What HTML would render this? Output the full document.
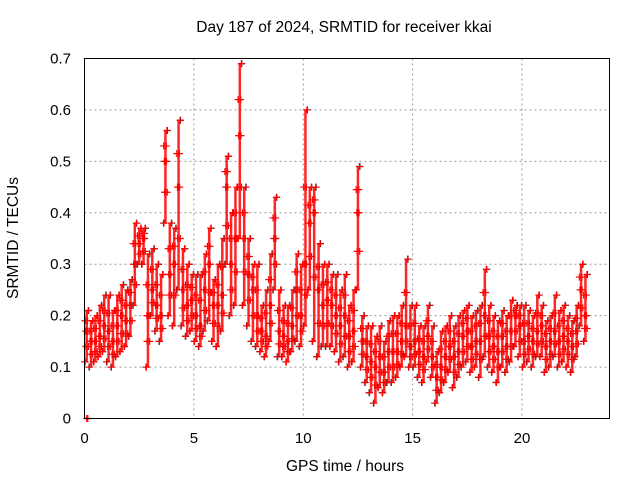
<!DOCTYPE html>
<html><head><meta charset="utf-8"><style>
body{margin:0;background:#fff;}
svg{display:block;font-family:"Liberation Sans",sans-serif;}
</style></head><body>
<svg id="chart" width="640" height="480">
<text x="344" y="32" text-anchor="middle" font-size="15.5">Day 187 of 2024, SRMTID for receiver kkai</text>
<text x="345" y="471" text-anchor="middle" font-size="15.5">GPS time / hours</text>
<text transform="translate(18,238) rotate(-90)" text-anchor="middle" font-size="15.5">SRMTID / TECUs</text>
<g id="grid"></g><g id="ticks"></g><g id="marks"></g>
<rect x="84.5" y="58.5" width="525" height="360" fill="none" stroke="#000" stroke-width="1"/>
</svg>
<script>
const xTicks=[0,5,10,15,20];
const yTicks=[0,0.1,0.2,0.3,0.4,0.5,0.6,0.7];
const yTickLabels=["0","0.1","0.2","0.3","0.4","0.5","0.6","0.7"];
const binWidth=0.2;
const midVals=[.17,.15,.15,.16,.18,.17,.15,.18,.20,.19,.22,.30,.34,.35,.20,.25,.22,.20,.50,.28,.30,.45,.25,.22,.23,.20,.18,.25,.30,.22,.22,.24,.45,.30,.35,.55,.35,.28,.25,.20,.17,.16,.22,.35,.17,.16,.15,.18,.25,.20,.30,.38,.40,.25,.22,.23,.22,.20,.18,.20,.16,.17,.40,.15,.12,.11,.10,.12,.09,.13,.13,.13,.15,.18,.14,.15,.13,.12,.16,.12,.08,.10,.12,.14,.12,.13,.16,.17,.14,.15,.15,.20,.16,.14,.13,.16,.14,.17,.20,.18,.15,.16,.15,.17,.18,.14,.15,.17,.15,.16,.15,.14,.17,.25,.20];
const lowVals=[.11,.10,.11,.12,.13,.11,.10,.12,.13,.14,.16,.22,.30,.30,.10,.20,.17,.15,.38,.20,.18,.25,.18,.16,.17,.15,.14,.17,.19,.15,.14,.17,.30,.20,.22,.35,.22,.18,.15,.14,.13,.12,.15,.25,.12,.12,.11,.13,.15,.14,.18,.25,.15,.12,.14,.14,.14,.13,.11,.12,.10,.11,.25,.10,.07,.05,.03,.06,.05,.07,.07,.08,.10,.12,.10,.10,.08,.07,.11,.08,.03,.05,.07,.09,.06,.08,.10,.11,.09,.10,.08,.12,.10,.09,.07,.10,.09,.11,.14,.12,.10,.11,.10,.12,.12,.09,.10,.12,.10,.11,.10,.09,.12,.18,.15];
const highVals=[.21,.19,.20,.22,.24,.24,.21,.24,.26,.25,.27,.38,.37,.37,.32,.33,.30,.28,.56,.38,.37,.58,.33,.30,.28,.28,.28,.32,.37,.27,.30,.35,.51,.40,.45,.69,.45,.35,.30,.30,.22,.25,.32,.43,.25,.22,.22,.25,.32,.30,.60,.45,.45,.34,.30,.30,.28,.28,.25,.28,.22,.25,.49,.20,.18,.18,.16,.18,.15,.19,.20,.20,.22,.31,.22,.22,.18,.18,.22,.18,.13,.17,.18,.20,.18,.20,.21,.22,.20,.21,.22,.29,.22,.20,.19,.21,.20,.23,.22,.22,.22,.21,.20,.24,.22,.19,.20,.24,.21,.22,.20,.19,.22,.30,.28];
const outlierT=[0.1,0.15];
const outlierV=[0,0];
const X=t=>84.5+t*(525/24);
const Y=v=>418.5-v*(360/0.7);
const NS="http://www.w3.org/2000/svg";
function mk(tag,attrs,parent){const e=document.createElementNS(NS,tag);for(const k in attrs)e.setAttribute(k,attrs[k]);parent.appendChild(e);return e;}
const grid=document.getElementById('grid'),ticks=document.getElementById('ticks'),marks=document.getElementById('marks');
xTicks.forEach(t=>{
 if(t>0){const g=mk('line',{x1:X(t),x2:X(t),y1:58.5,y2:418.5,stroke:'#999','stroke-dasharray':'2,3'},grid);
 
 }
 const l=mk('text',{x:X(t),y:443,'text-anchor':'middle','font-size':15},ticks);l.textContent=t;
 
 
});
yTicks.forEach((v,i)=>{
 if(v>0&&v<0.7){const g=mk('line',{x1:84.5,x2:609.5,y1:Y(v),y2:Y(v),stroke:'#999','stroke-dasharray':'2,3'},grid);
 
 }
 const l=mk('text',{x:71,y:Y(v)+5,'text-anchor':'end','font-size':15},ticks);l.textContent=yTickLabels[i];
 
 
});
function plus(t,v,color,name){
 const x=X(t),y=Y(v);
 const p=mk('path',{d:`M${x-3.5},${y}H${x+3.5}M${x},${y-3.5}V${y+3.5}`,stroke:color,'stroke-width':1.2,fill:'none'},marks);
 
 
}
midVals.forEach((m,i)=>{
 const t=binWidth*i+binWidth/2;
 plus(t-0.09,lowVals[i],'#333','black-point');
 plus(t+0.09,highVals[i],'#333','black-point');
 const r=mk('line',{x1:X(t),x2:X(t),y1:Y(lowVals[i]),y2:Y(highVals[i]),stroke:'#f00','stroke-width':2.5,opacity:0.85},marks);
 
 
 const lo=lowVals[i],hi=highVals[i];
 plus(t-0.07,lo,'#f00','red-point');
 plus(t,m,'#f00','red-point');
 plus(t+0.07,hi,'#f00','red-point');
 plus(t-0.04,(lo+m)/2,'#f00','red-point');
 plus(t+0.04,(hi+m)/2,'#f00','red-point');
 plus(t+0.08,(lo+m)/2,'#f00','red-point');
 plus(t-0.08,(hi+m)/2,'#f00','red-point');
 plus(t+0.05,m,'#f00','red-point');
 plus(t-0.05,m,'#f00','red-point');
});
outlierT.forEach((t,i)=>plus(t,outlierV[i],'#f00','red-outlier'));
</script>
</body></html>
